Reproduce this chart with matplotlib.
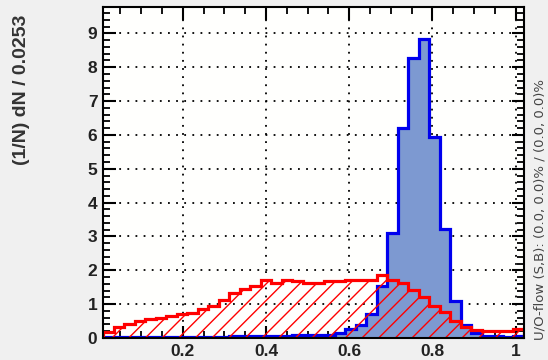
import numpy as np
import matplotlib
matplotlib.use("Agg")
import matplotlib.pyplot as plt
from matplotlib.ticker import MultipleLocator

# ---- data ----
x_min = 0.008
bin_width = 0.0253
n_bins = 40

signal = [0.02, 0.02, 0.02, 0.02, 0.02, 0.03, 0.03, 0.03, 0.03, 0.04,
          0.04, 0.04, 0.05, 0.05, 0.05, 0.06, 0.07, 0.07, 0.08, 0.08,
          0.09, 0.10, 0.15, 0.28, 0.37, 0.70, 1.55, 3.10, 6.20, 8.26,
          8.84, 5.95, 3.22, 1.08, 0.38, 0.15, 0.06, 0.05, 0.04, 0.06]

background = [0.18, 0.33, 0.42, 0.50, 0.55, 0.58, 0.64, 0.70, 0.74, 0.85,
              0.95, 1.13, 1.33, 1.45, 1.55, 1.70, 1.62, 1.72, 1.67, 1.63,
              1.63, 1.67, 1.67, 1.72, 1.72, 1.72, 1.85, 1.70, 1.62, 1.43,
              1.20, 0.95, 0.76, 0.50, 0.33, 0.24, 0.20, 0.20, 0.20, 0.28]

x_ticks = [0.2, 0.4, 0.6, 0.8, 1.0]
x_tick_labels = ["0.2", "0.4", "0.6", "0.8", "1"]
y_ticks = list(range(0, 10))
y_label = "(1/N) dN / 0.0253"
overflow_text = "U/O-flow (S,B): (0.0, 0.0)% / (0.0, 0.0)%"

edges = x_min + bin_width * np.arange(n_bins + 1)

plt.rcParams['font.family'] = ['Liberation Sans', 'DejaVu Sans']
plt.rcParams['hatch.linewidth'] = 1.0
plt.rcParams['hatch.color'] = '#ff0000'

fig = plt.figure(figsize=(5.48, 3.60), dpi=100, facecolor='#f0f0f0')
ax = fig.add_axes([103/548, 22/360, (524-103)/548, (353-22)/360])
ax.set_facecolor('#fffffd')

# signal
ax.stairs(signal, edges, fill=True, facecolor='#7d99d1', edgecolor='none', zorder=2)
ax.stairs(signal, edges, color='#0000ee', linewidth=2.3, zorder=3)
# background
ax.stairs(background, edges, fill=True, facecolor='none', edgecolor='#ff0000',
          hatch='//', linewidth=0, zorder=4)
ax.stairs(background, edges, color='#ff0000', linewidth=2.3, zorder=5)

ax.set_xlim(edges[0], edges[-1])
ax.set_ylim(0, 9.78)

ax.set_xticks(x_ticks)
ax.set_xticklabels(x_tick_labels)
ax.set_yticks(y_ticks)
ax.xaxis.set_minor_locator(MultipleLocator(0.05))
ax.yaxis.set_minor_locator(MultipleLocator(0.2))

ax.tick_params(which='both', direction='in', top=True, right=True,
               colors='black', labelcolor='#222222')
ax.tick_params(which='major', length=9, width=1.5, labelsize=12.5)
ax.tick_params(which='minor', length=5, width=1.3)
ax.tick_params(axis='y', which='major', pad=4)
ax.tick_params(axis='x', which='major', pad=4)
for lab in ax.get_xticklabels() + ax.get_yticklabels():
    lab.set_fontweight('bold')

for s in ax.spines.values():
    s.set_linewidth(1.5)
    s.set_zorder(10)

ax.grid(True, which='major', color='black', linestyle=(0, (1, 3.5)), linewidth=1.3, zorder=1)
ax.set_axisbelow(True)

fig.text(22/548, 1 - 15/360, y_label, rotation=90, ha='center', va='top',
         fontsize=14, fontweight='bold', color='#333333')
fig.text(540/548, 20/360, overflow_text, rotation=90, ha='center', va='bottom',
         fontsize=9.5, color='#444444', family=['DejaVu Sans'])

fig.savefig('out.png', dpi=100, facecolor=fig.get_facecolor())
